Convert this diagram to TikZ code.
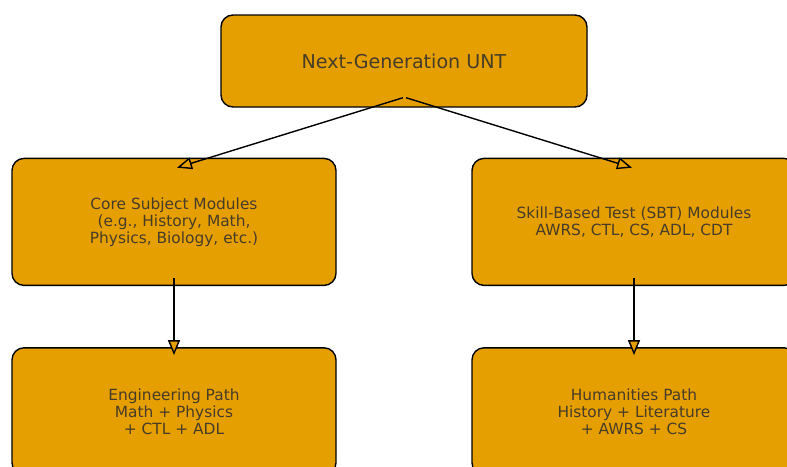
\documentclass[tikz,border=0pt]{standalone}
\usepackage{fontspec}
\setmainfont{DejaVu Sans}
\usepackage{tikz}
\usetikzlibrary{arrows.meta,positioning}
\definecolor{boxfill}{HTML}{E69F00}
\definecolor{boxtext}{RGB}{70,60,40}

\begin{document}
\begin{tikzpicture}[x=1pt,y=-1pt,
  b/.style={draw,rounded corners=12pt,line width=1.4pt,fill=boxfill,text=boxtext,align=center,
    font=\fontsize{15.4}{17}\selectfont,minimum width=324pt,minimum height=127pt},
  a/.style={-{Triangle[length=15pt,width=12pt,fill=boxfill]},line width=1.4pt}]
  \useasboundingbox (0,0) rectangle (787,466);
  \node[b,minimum width=366pt,minimum height=92pt,font=\fontsize{19.1}{22}\selectfont] (unt) at (404,61) {Next-Generation UNT};
  \node[b,below=50pt of unt,xshift=-230pt] (core) {Core Subject Modules\\(e.g., History, Math,\\Physics, Biology, etc.)};
  \node[b,below=50pt of unt,xshift=230pt] (sbt) {Skill-Based Test (SBT) Modules\\AWRS, CTL, CS, ADL, CDT};
  \node[b,below=61pt of core] (eng) {Engineering Path\\Math + Physics\\+ CTL + ADL};
  \node[b,below=61pt of sbt] (hum) {Humanities Path\\History + Literature\\+ AWRS + CS};
  \draw[a] ([xshift=-1pt,yshift=10pt]unt.south) -- ([xshift=3pt,yshift=-10pt]core.north);
  \draw[a] ([xshift=2pt,yshift=10pt]unt.south) -- ([xshift=-2pt,yshift=-10pt]sbt.north);
  \draw[a] ([yshift=8pt]core.south) -- ([yshift=-8pt]eng.north);
  \draw[a] ([yshift=8pt]sbt.south) -- ([yshift=-8pt]hum.north);
\end{tikzpicture}
\end{document}
